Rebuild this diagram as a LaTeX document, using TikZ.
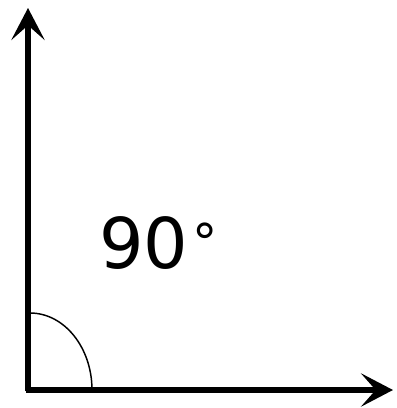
\documentclass[tikz,border=0pt]{standalone}
\usepackage{fontspec}
\setmainfont{DejaVu Sans}
\usetikzlibrary{arrows.meta}
\begin{document}
\begin{tikzpicture}[x=0.75pt,y=-0.75pt,
  axis/.style={line width=3.8pt,-{Stealth[length=24pt,width=25pt,inset=11pt]}},
  anglearc/.style={line width=1.1pt}]
\useasboundingbox (0,0) rectangle (397,408);
\coordinate (o) at (28,390);
\coordinate (ytip) at (28,8);
\coordinate (xtip) at (393,390);
\draw[axis] (o) ++(0,1.4) -- (ytip);
\draw[axis] ([xshift=-1.4pt]o) -- (xtip);
\coordinate (arcstart) at (92,390);
\draw[anglearc] (arcstart) arc[start angle=0,end angle=-90,x radius=62,y radius=77];
\node[inner sep=0pt,anchor=base west,font=\fontsize{52.5}{60}\selectfont] (lbl) at (99,268) {90\hspace{3pt}\raisebox{6pt}{\fontsize{38}{40}\selectfont °}};
\end{tikzpicture}
\end{document}
